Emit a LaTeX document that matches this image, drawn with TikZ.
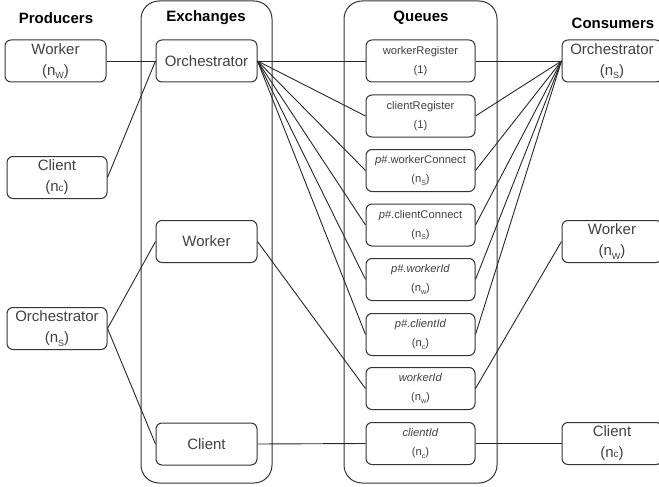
\documentclass[tikz,border=0pt]{standalone}
\usepackage{fontspec}
\setmainfont{Liberation Sans}
\newcommand{\sbs}[1]{\raisebox{-0.25em}{\fontsize{9}{9}\selectfont #1}}
\newcommand{\qsb}[1]{\raisebox{-0.2em}{\fontsize{7}{7}\selectfont #1}}
\begin{document}
\begin{tikzpicture}[x=1pt,y=-1pt,
  lbl/.style={font=\fontsize{15}{15}\selectfont\bfseries, text=black},
  box/.style={draw=black!80, line width=1pt, rounded corners=6pt, minimum width=101pt, minimum height=42pt, inner sep=0pt, align=center, text=black!75, font=\fontsize{15}{21}\selectfont},
  qbox/.style={draw=black!80, line width=1pt, rounded corners=6pt, minimum width=109pt, minimum height=42pt, inner sep=0pt, align=center, text=black!75, font=\fontsize{11.2}{19}\selectfont},
  cont/.style={draw=black!80, line width=1pt, rounded corners=18pt},
  conn/.style={draw=black!85, line width=0.9pt}]
\useasboundingbox (0,0) rectangle (659,487);
\clip (0,0) rectangle (659,487);
% containers
\draw[cont] (141,1) rectangle (272,483);
\draw[cont] (344,1) rectangle (497,483);
% headers
\node[lbl] (hp) at (56,18) {Producers};
\node[lbl] (he) at (206,18) {Exchanges};
\node[lbl] (hq) at (421,18) {Queues};
\node[lbl] (hc) at (613,23) {Consumers};
% producers
\node[box] (pw) at (55.5,61) {Worker\\(n\sbs{W})};
\node[box, minimum width=100pt] (pc) at (57,177.5) {Client\\(n{\fontsize{10}{10}\selectfont c})};
\node[box, minimum width=100pt] (po) at (57,328.5) {Orchestrator\\(n\sbs{S})};
% exchanges
\node[box] (eo) at (206.5,61) {Orchestrator};
\node[box] (ew) at (206.5,241.5) {Worker};
\node[box] (ec) at (206.5,444) {Client};
% queues
\node[qbox] (q1) at (420.5,61) {workerRegister\\(1)};
\node[qbox] (q2) at (420.5,116) {clientRegister\\(1)};
\node[qbox] (q3) at (420.5,170.5) {\textit{p}\#.workerConnect\\(n\qsb{S})};
\node[qbox] (q4) at (420.5,225) {\textit{p}\#.clientConnect\\(n\qsb{S})};
\node[qbox] (q5) at (420.5,279.5) {\textit{p\#.workerId}\\(n\qsb{w})};
\node[qbox] (q6) at (420.5,334.5) {\textit{p\#.clientId}\\(n\qsb{c})};
\node[qbox] (q7) at (420.5,388.5) {\textit{workerId}\\(n\qsb{w})};
\node[qbox] (q8) at (420.5,443.5) {\textit{clientId}\\(n\qsb{c})};
% consumers
\node[box, minimum width=100pt] (co) at (612,61) {Orchestrator\\(n\sbs{S})};
\node[box, minimum width=100pt] (cw) at (612,241.5) {Worker\\(n\sbs{W})};
\node[box, minimum width=100pt] (cc) at (612,443.5) {Client\\(n{\fontsize{10}{10}\selectfont c})};
% connectors
\draw[conn] (pw.east) -- (eo.west);
\draw[conn] (pc.east) -- (eo.west);
\draw[conn] (po.east) -- (ew.west);
\draw[conn] (po.east) -- (ec.west);
\foreach \q in {q1,q2,q3,q4,q5,q6} {
  \draw[conn] (eo.east) -- (\q.west);
  \draw[conn] (\q.east) -- (co.west);
}
\draw[conn] (ew.east) -- (q7.west);
\draw[conn] (ec.east) -- (q8.west);
\draw[conn] (q7.east) -- (cw.west);
\draw[conn] (q8.east) -- (cc.west);
\end{tikzpicture}
\end{document}
